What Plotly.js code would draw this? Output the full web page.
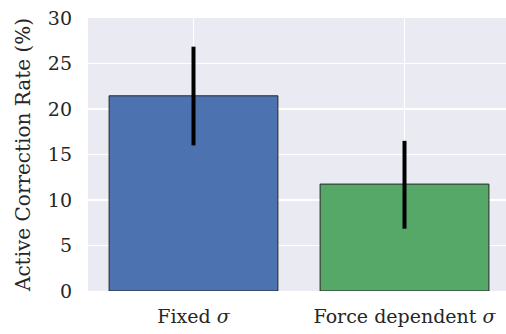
<!DOCTYPE html>
<html>
<head>
<meta charset="utf-8">
<script src="https://cdn.plot.ly/plotly-3.0.1.min.js"></script>
<style>html,body{margin:0;padding:0;background:#fff;}#chart{width:506px;height:334px;}</style>
</head>
<body>
<div id="chart"></div>
<script>
const categories = ["Fixed <i>σ</i>", "Force dependent <i>σ</i>"];
const rates = [21.45, 11.75];
const errPlus = [5.4, 4.75];
const errMinus = [5.45, 4.9];
const barColors = ["#4C72B0", "#55A868"];
const yTicks = [0, 5, 10, 15, 20, 25, 30];

const trace = {
  type: "bar",
  x: [0, 1],
  y: rates,
  width: 0.8,
  marker: {color: barColors, line: {color: "#262626", width: 1}},
  error_y: {type: "data", symmetric: false, array: errPlus, arrayminus: errMinus,
            color: "#000", thickness: 4, width: 0},
  hoverinfo: "none"
};

const fontFam = "DejaVu Serif, serif";
const layout = {
  width: 506, height: 334,
  margin: {l: 88, r: 0, t: 18, b: 43, pad: 0},
  paper_bgcolor: "#fff",
  plot_bgcolor: "#EAEAF2",
  showlegend: false,
  font: {family: fontFam, color: "#262626", size: 19},
  xaxis: {
    range: [-0.5, 1.481],
    tickvals: [0, 1], ticktext: categories,
    showgrid: true, gridcolor: "#fff", gridwidth: 1.6,
    zeroline: false, showline: false, ticks: "",
    tickfont: {size: 19, family: fontFam, color: "#262626"},
    ticklabelstandoff: 12
  },
  yaxis: {
    range: [0, 30],
    tickvals: yTicks,
    showgrid: true, gridcolor: "#fff", gridwidth: 1.6,
    zeroline: false, showline: false, ticks: "",
    tickfont: {size: 19, family: fontFam, color: "#262626"},
    ticklabelstandoff: 15,
    title: {text: "Active Correction Rate (%)", font: {size: 20, family: fontFam, color: "#262626"}, standoff: 11}
  }
};
Plotly.newPlot("chart", [trace], layout, {staticPlot: true, displayModeBar: false});
</script>
</body>
</html>
